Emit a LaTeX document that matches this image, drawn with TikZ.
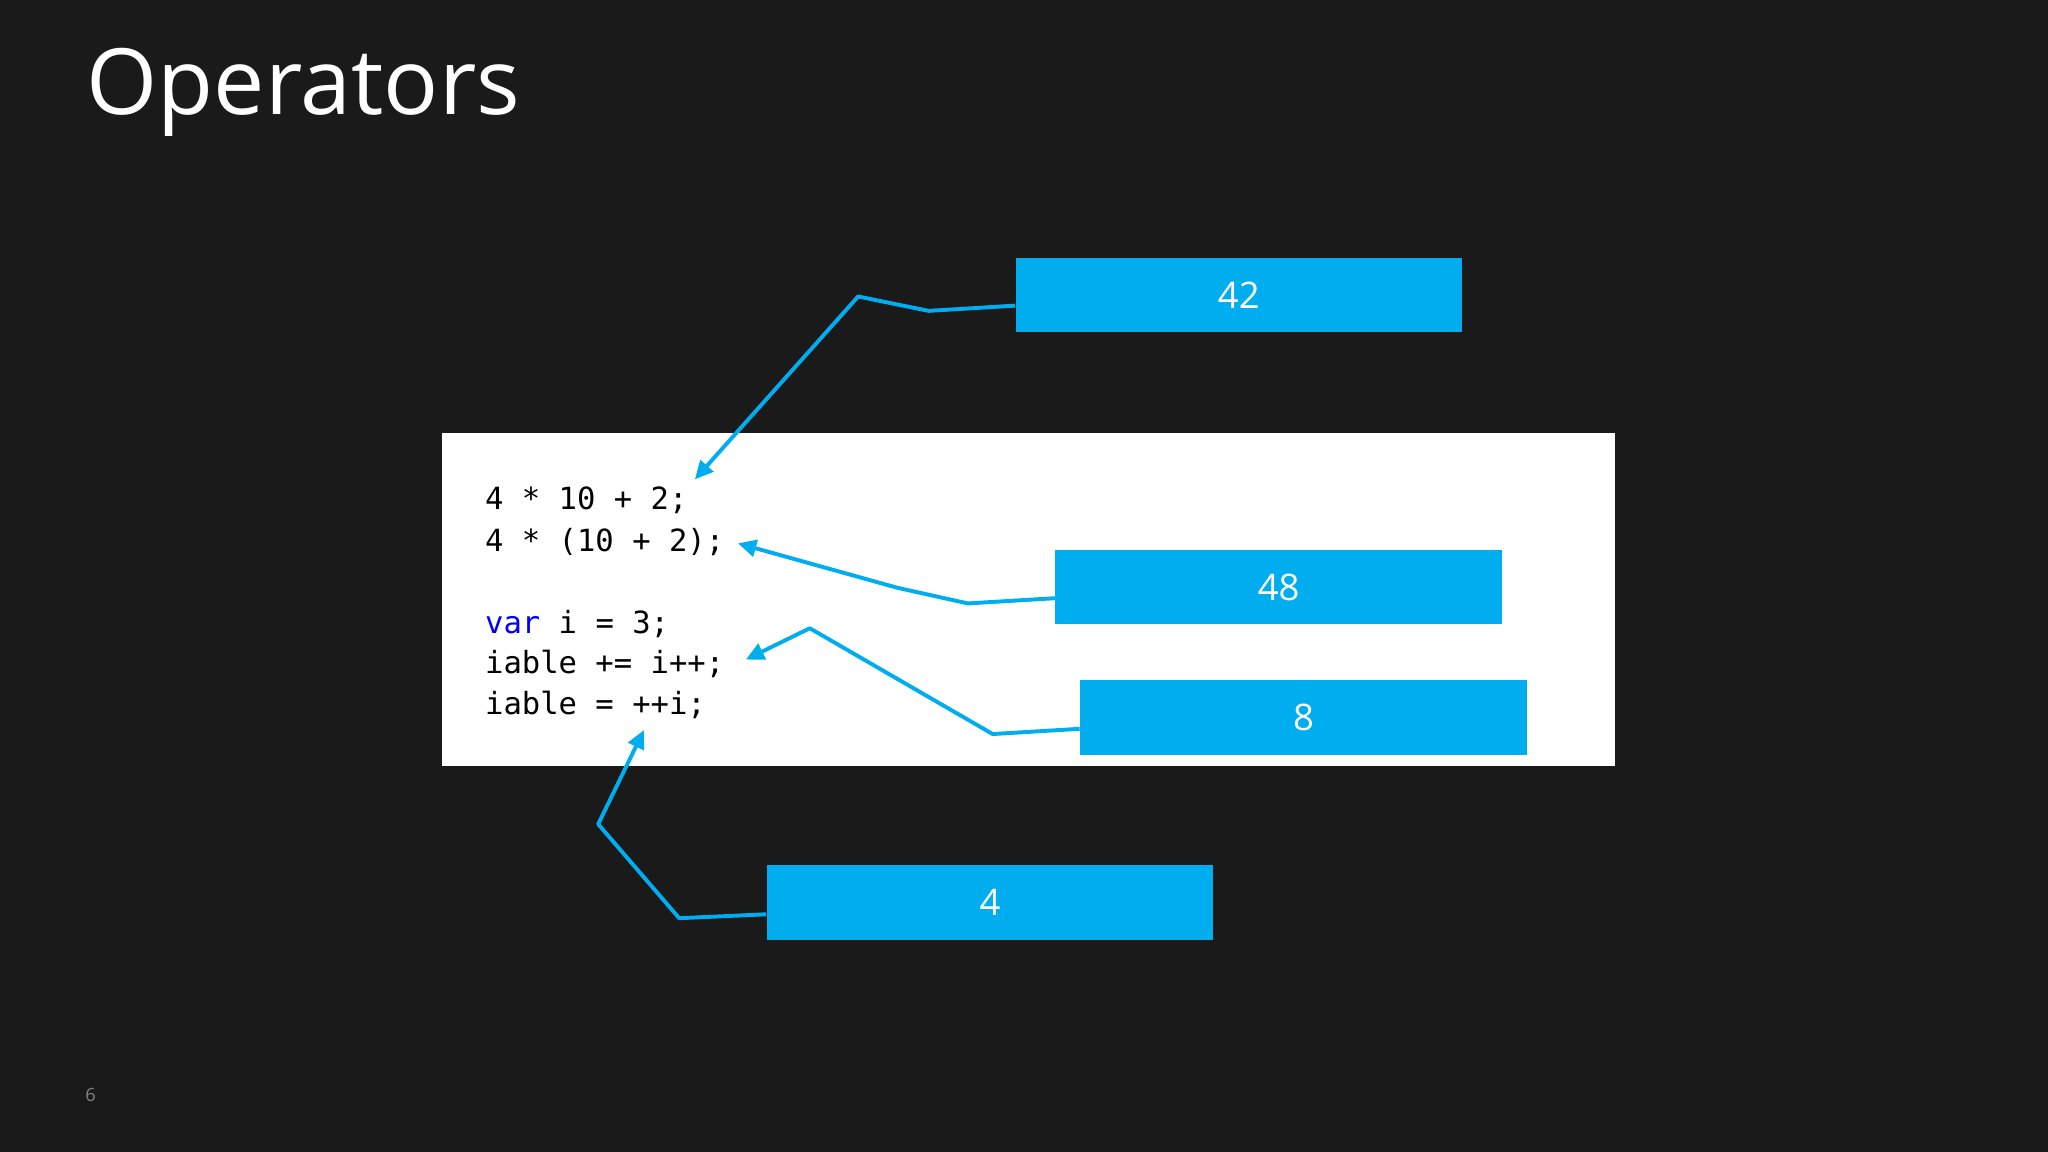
\documentclass[tikz,border=0pt]{standalone}
\usepackage{fontspec}
\setmainfont{Open Sans}
\newfontfamily\codefont{DejaVu Sans Mono}
\usetikzlibrary{arrows.meta}
\definecolor{bg}{HTML}{1A1A1B}
\definecolor{cy}{HTML}{00ADEF}
\definecolor{kw}{HTML}{0000FF}
\tikzset{
 valbox/.style={fill=cy,draw=none,minimum width=171pt,minimum height=28.5pt,inner sep=0pt,text=white,font=\fontsize{14}{16}\selectfont},
 conn/.style={draw=cy,line width=1.5pt,line join=round,-{Triangle[length=7pt,width=6.5pt]}},
 codeline/.style={anchor=base west,inner sep=0pt,font=\codefont\fontsize{11.7}{14}\selectfont,text=black}
}
\begin{document}
\begin{tikzpicture}[x=0.5pt,y=-0.5pt]
\fill[bg] (0,0) rectangle (1568,882);
\useasboundingbox (0,0) rectangle (1568,882);
\node[anchor=base west,inner sep=0pt,text=white,font=\fontsize{35}{40}\selectfont\addfontfeatures{FakeBold=-0.2}] (title) at (66,88) {Operators};
\node[fill=white,minimum width=449pt,minimum height=127.5pt,inner sep=0pt,anchor=north west] (code) at (338,331) {};
\node[codeline] (l1) at (371,390) {4 * 10 + 2;};
\node[codeline] (l2) at (371,422) {4 * (10 + 2);};
\node[codeline] (l3) at (371,485) {\textcolor{kw}{var} i = 3;};
\node[codeline] (l4) at (371,516) {iable += i++;};
\node[codeline] (l5) at (371,547) {iable = ++i;};
\node[valbox] (b42) at (948.5,226) {42};
\node[valbox] (b48) at (979,449.5) {48};
\node[valbox] (b8) at (998,549.5) {8};
\node[valbox] (b4) at (758,691) {4};
\coordinate (t42) at (532,367);
\coordinate (t48) at (565,416);
\coordinate (t8) at (571,505);
\coordinate (t4) at (493,559);
\draw[conn] (b42.west |- 0,234) -- (711,238) -- (657,227) -- (t42);
\draw[conn] (b48.west |- 0,458) -- (741,462) -- (687,450) -- (t48);
\draw[conn] (b8.west |- 0,558) -- (760,562) -- (620,481) -- (t8);
\draw[conn] (b4.west |- 0,700) -- (520,703) -- (458,631) -- (t4);
\node[anchor=base west,inner sep=0pt,text=gray,font=\fontsize{7}{8}\selectfont] (pg) at (65,843) {6};
\end{tikzpicture}
\end{document}
